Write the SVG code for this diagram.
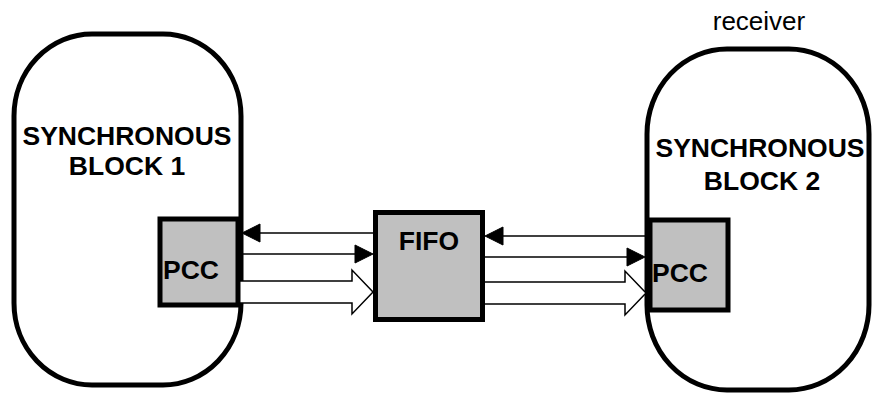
<svg xmlns="http://www.w3.org/2000/svg" width="872" height="396" viewBox="0 0 872 396">
<style>
.blk{fill:#fff;stroke:#000;stroke-width:5}
.box{fill:#c0c0c0;stroke:#000;stroke-width:5}
.t{font-family:"Liberation Sans",Arial,sans-serif;font-weight:bold;font-size:26.5px;fill:#000}
.r{font-family:"Liberation Sans",Arial,sans-serif;font-size:26px;fill:#000}
.ln{fill:none;stroke:#000;stroke-width:1.5}
.hd{fill:#000;stroke:#000;stroke-width:1}
.hol{fill:#fff;stroke:#000;stroke-width:1.5;stroke-linejoin:miter}
</style>
<g id="block1">
<rect class="blk" x="14" y="34" width="227" height="351" rx="78" ry="82"/>
<text class="t" x="127" y="145" text-anchor="middle">SYNCHRONOUS</text>
<text class="t" x="127" y="175" text-anchor="middle">BLOCK 1</text>
</g>
<g id="block2">
<text class="r" x="759" y="30" text-anchor="middle">receiver</text>
<rect class="blk" x="647" y="49" width="222" height="341" rx="80" ry="85"/>
<text class="t" x="760" y="157" text-anchor="middle">SYNCHRONOUS</text>
<text class="t" x="762" y="190" text-anchor="middle">BLOCK 2</text>
</g>
<g id="connectors">
<line class="ln" x1="258" y1="233" x2="375" y2="233"/>
<polygon class="hd" points="242,233 260,224 260,242"/>
<line class="ln" x1="240" y1="254" x2="357" y2="254"/>
<polygon class="hd" points="373,254 355,245 355,263"/>
<path class="hol" d="M240,281 H352 V270 L373,292 L352,314 V303 H240"/>
<line class="ln" x1="501" y1="236" x2="647" y2="236"/>
<polygon class="hd" points="485,236 503,227 503,245"/>
<line class="ln" x1="485" y1="257" x2="629" y2="257"/>
<polygon class="hd" points="645,257 627,248 627,266"/>
<path class="hol" d="M485,282 H625 V271 L646,293 L625,315 V304 H485"/>
</g>
<g id="pcc1">
<rect class="box" x="160" y="219" width="78" height="86"/>
<text class="t" x="163" y="279">PCC</text>
</g>
<g id="pcc2">
<rect class="box" x="650" y="220" width="78" height="90"/>
<text class="t" x="652" y="282">PCC</text>
</g>
<g id="fifo">
<rect class="box" x="375.5" y="212.5" width="107" height="107"/>
<text class="t" x="429" y="250" text-anchor="middle">FIFO</text>
</g>
</svg>
